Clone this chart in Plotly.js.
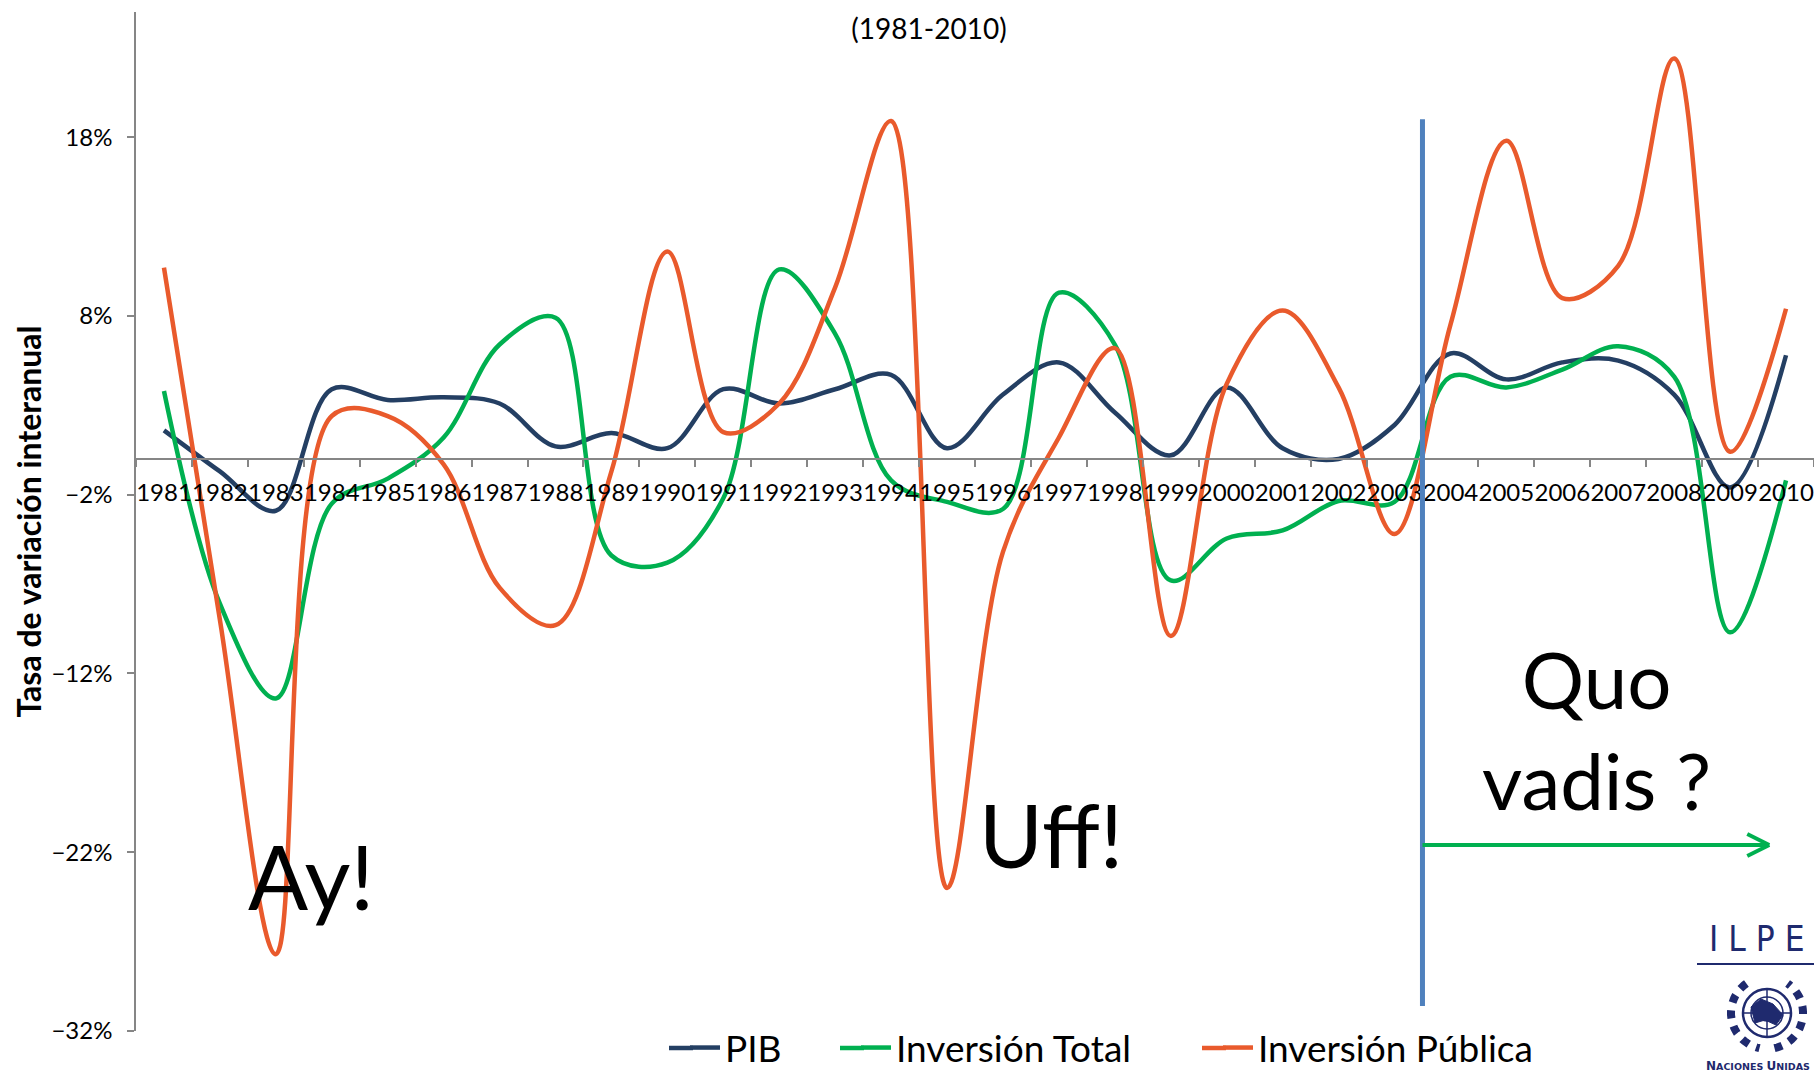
<!DOCTYPE html>
<html><head><meta charset="utf-8">
<script src="https://cdn.plot.ly/plotly-3.0.1.min.js"></script>
<style>html,body{margin:0;padding:0;background:#fff;overflow:hidden}</style>
</head><body><div id="chart" style="width:1814px;height:1075px"></div>
<script>
// ---- data (tasa de variación interanual, %) ----
const years = ['1981','1982','1983','1984','1985','1986','1987','1988','1989','1990',
               '1991','1992','1993','1994','1995','1996','1997','1998','1999','2000',
               '2001','2002','2003','2004','2005','2006','2007','2008','2009','2010'];
const pib = [1.6,-0.7,-2.9,3.9,3.3,3.45,3.1,0.7,1.45,0.6,
             3.9,3.1,3.9,4.7,0.6,3.6,5.4,2.6,0.2,4.0,
             0.6,0.0,1.9,5.9,4.45,5.4,5.5,3.6,-1.6,5.8];
const inversionTotal = [3.8,-8.1,-13.4,-2.5,-1.1,1.2,6.4,7.9,-5.4,-5.8,
                        -2.2,10.6,7.0,-1.2,-2.4,-2.8,9.3,6.4,-6.8,-4.45,
                        -4.0,-2.35,-2.4,4.6,4.0,5.0,6.3,4.6,-9.7,-1.2];
const inversionPublica = [10.7,-9.0,-27.7,2.4,2.4,-0.3,-7.2,-9.3,-0.7,11.6,
                          1.5,3.1,9.6,18.9,-24.0,-5.2,1.2,6.2,-9.9,4.2,
                          8.3,4.0,-4.2,7.5,17.8,9.0,10.8,22.4,0.4,8.4];
const seriesNames = ['PIB','Inversión Total','Inversión Pública'];
const seriesData = [pib, inversionTotal, inversionPublica];
const seriesColors = ['#243F63','#00B050','#E95A2C'];
const legendIds = ['legend','legend2','legend3'];
const yMin = -32, yMax = 25, yStep = 10;
const titleText = '(1981-2010)';
const yTitle = 'Tasa de variación interanual';

// ---- layout geometry ----
const W = 1814, H = 1075;
const M = {l:136, r:0, t:12, b:44};
const PW = W - M.l - M.r, PH = H - M.t - M.b;
const px = x => (x - M.l) / PW;          // pixel -> paper x
const py = y => (H - M.b - y) / PH;      // pixel -> paper y
const FONT = 'Lato, "Open Sans", sans-serif';
const NAVY = '#1F2A6E';
const GRAY = '#868686';

const traces = seriesData.map((vals, i) => ({
  type: 'scatter', mode: 'lines', x: years, y: vals, name: seriesNames[i],
  legend: legendIds[i],
  line: {color: seriesColors[i], width: 4.5, shape: 'spline', smoothing: 1},
  hoverinfo: 'x+y+name'
}));

const legendTextStarts = [727, 898, 1260];
const legendY = 1048;
const legendBase = {orientation: 'h', yanchor: 'middle', xanchor: 'left',
  y: py(legendY), bgcolor: 'rgba(0,0,0,0)', borderwidth: 0,
  font: {family: FONT, size: 37, color: '#000'}};
const legends = {};
legendIds.forEach((id, i) => {
  legends[id] = Object.assign({}, legendBase, {x: px(legendTextStarts[i] - 42)});
});

// green arrow + vertical separator (annotation graphics)
const sepX = 22.5;
const arrowY = -21.6, arrowEnd = 28.7;
const shapes = [
  {type:'line', xref:'x', yref:'y', x0:sepX, x1:sepX, y0:19, y1:-30.6,
   line:{color:'#4F81BD', width:5}},
  {type:'line', xref:'x', yref:'y', x0:sepX, x1:arrowEnd, y0:arrowY, y1:arrowY,
   line:{color:'#00B050', width:4}},
  {type:'line', xref:'x', yref:'y', xsizemode:'pixel', ysizemode:'pixel',
   xanchor:arrowEnd, yanchor:arrowY, x0:-22, y0:11, x1:0, y1:0,
   line:{color:'#00B050', width:4}},
  {type:'line', xref:'x', yref:'y', xsizemode:'pixel', ysizemode:'pixel',
   xanchor:arrowEnd, yanchor:arrowY, x0:-22, y0:-11, x1:0, y1:0,
   line:{color:'#00B050', width:4}},
  // ILPE logo rule
  {type:'line', xref:'paper', yref:'paper', x0:px(1697), x1:px(1816), y0:py(964), y1:py(964),
   line:{color:NAVY, width:2}}
];
// longer legend line samples (Excel-style keys)
legendTextStarts.forEach((t, i) => shapes.push({type:'line', xref:'paper', yref:'paper',
  x0:px(t - 58), x1:px(t - 34), y0:py(legendY), y1:py(legendY),
  line:{color:seriesColors[i], width:4.5}}));

// UN emblem (simplified)
const ec = {x:1767, y:1013};
[24, 16, 8].forEach((r, k) => shapes.push({type:'circle', xref:'paper', yref:'paper',
  xsizemode:'pixel', ysizemode:'pixel', xanchor:px(ec.x), yanchor:py(ec.y),
  x0:-r, x1:r, y0:-r, y1:r, line:{color:NAVY, width: k===0 ? 2.5 : 1.5}}));
shapes.push({type:'line', xref:'paper', yref:'paper', xsizemode:'pixel', ysizemode:'pixel',
  xanchor:px(ec.x), yanchor:py(ec.y), x0:-24, x1:24, y0:0, y1:0, line:{color:NAVY, width:1.5}});
shapes.push({type:'line', xref:'paper', yref:'paper', xsizemode:'pixel', ysizemode:'pixel',
  xanchor:px(ec.x), yanchor:py(ec.y), x0:0, x1:0, y0:-24, y1:24, line:{color:NAVY, width:1.5}});
shapes.push({type:'path', xref:'paper', yref:'paper', xsizemode:'pixel', ysizemode:'pixel',
  xanchor:px(ec.x), yanchor:py(ec.y),
  path:'M-16,6 L-6,14 L6,9 L16,-2 L9,-12 L-2,-7 L-12,-10 Z', fillcolor:NAVY, line:{color:NAVY, width:1}});
function arcPath(r, a0, a1, n) {
  let d = '';
  for (let k = 0; k <= n; k++) {
    const a = (a0 + (a1 - a0) * k / n) * Math.PI / 180;
    d += (k ? ' L' : 'M') + (r * Math.cos(a)).toFixed(1) + ',' + (r * Math.sin(a)).toFixed(1);
  }
  return d;
}
[[125, 258], [-78, 55]].forEach(([a0, a1]) => shapes.push({type:'path', xref:'paper', yref:'paper',
  xsizemode:'pixel', ysizemode:'pixel', xanchor:px(ec.x), yanchor:py(ec.y),
  path: arcPath(36, a0, a1, 30),
  line:{color:NAVY, width:8, dash:'dot'}}));

const annotations = [
  {text:'Ay!', xref:'x', yref:'y', x:2.62, y:-23.3, showarrow:false,
   font:{family:FONT, size:89, color:'#000'}},
  {text:'Uff!', xref:'x', yref:'y', x:15.86, y:-21.0, showarrow:false,
   font:{family:FONT, size:87, color:'#000'}},
  {text:'Quo<br>vadis ?', xref:'x', yref:'y', x:25.62, y:-15.15, showarrow:false,
   font:{family:FONT, size:78, color:'#000'}},
  {text:'I L P E', xref:'paper', yref:'paper', x:px(1757), y:py(939), xanchor:'center', yanchor:'middle',
   showarrow:false,
   font:{family:'"Liberation Sans Narrow", "DejaVu Sans Condensed", sans-serif', size:35, color:NAVY}},
  {text:'<b><span style="font-size:12px">N</span>ACIONES <span style="font-size:12px">U</span>NIDAS</b>',
   xref:'paper', yref:'paper', x:px(1812), y:py(1066), xanchor:'right', yanchor:'middle', showarrow:false,
   font:{family:'"DejaVu Sans", sans-serif', size:9.5, color:NAVY}}
];

const layout = Object.assign({
  width: W, height: H,
  margin: Object.assign({autoexpand:false}, M),
  paper_bgcolor:'#fff', plot_bgcolor:'#fff',
  showlegend: true,
  title: {text: titleText, x: 929 / W, xanchor:'center', y: 1 - 29 / H, yanchor:'middle',
          font:{family:FONT, size:28, color:'#000'}},
  xaxis: {type:'category', range:[-0.5, years.length - 0.5], anchor:'free',
          position: (0 - yMin) / (yMax - yMin),
          showline:true, linecolor:GRAY, linewidth:1.5,
          ticks:'outside', ticklen:7, tickwidth:1.5, tickcolor:GRAY, tickson:'boundaries',
          ticklabelstandoff: 13,
          tickfont:{family:FONT, size:24, color:'#000'}, tickangle:0,
          showgrid:false, zeroline:false, automargin:false, fixedrange:true},
  yaxis: {range:[yMin, yMax], tick0:yMin, dtick:yStep, ticksuffix:'%',
          showline:true, linecolor:GRAY, linewidth:1.5,
          ticks:'outside', ticklen:7, tickwidth:1.5, tickcolor:GRAY,
          ticklabelstandoff: 10,
          tickfont:{family:FONT, size:24, color:'#000'},
          title:{text:'<b>' + yTitle + '</b>', standoff: 0,
                 font:{family:FONT, size:32, color:'#000'}},
          showgrid:false, zeroline:false, automargin:false, fixedrange:true},
  shapes: shapes,
  annotations: annotations
}, legends);

Plotly.newPlot('chart', traces, layout, {displayModeBar:false});
</script>
</body></html>
